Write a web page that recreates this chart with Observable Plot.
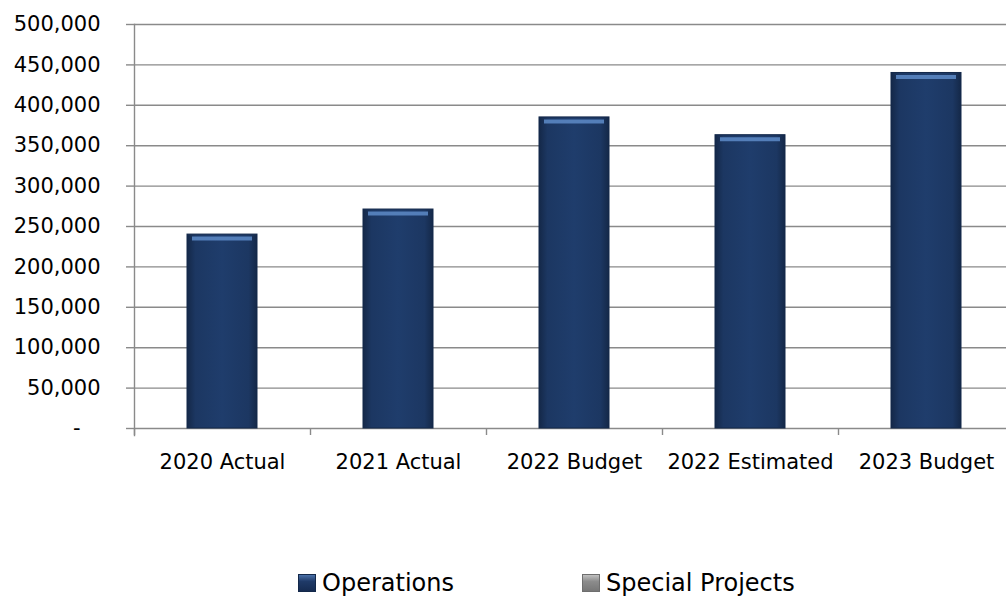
<!DOCTYPE html>
<html>
<head>
<meta charset="utf-8">
<script src="https://cdn.jsdelivr.net/npm/d3@7"></script>
<script src="https://cdn.jsdelivr.net/npm/@observablehq/plot@0.6"></script>
<style>
  html, body { margin: 0; padding: 0; background: #fff; width: 1006px; height: 599px; overflow: hidden; }
  #chart svg { display: block; }
  #legend { position: absolute; top: 569px; left: 0; width: 1006px; height: 30px; font-family: "DejaVu Sans", sans-serif; font-size: 24px; color: #000; }
  .item { position: absolute; top: 0; display: flex; align-items: center; }
  .sw { width: 18px; height: 18px; margin-right: 6px; box-sizing: border-box; }
</style>
</head>
<body>
<div id="chart"></div>
<div id="legend">
  <div class="item" style="left:298px"><div class="sw" style="background:linear-gradient(#4a70a8,#1f3a68 40%,#162c52);border:1px solid #13284a"></div>Operations</div>
  <div class="item" style="left:582px"><div class="sw" style="background:linear-gradient(#c0c0c0,#8c8c8c 40%,#777);border:1px solid #6e6e6e"></div>Special Projects</div>
</div>
<script>
const categories = ["2020 Actual", "2021 Actual", "2022 Budget", "2022 Estimated", "2023 Budget"];
const operations = [240000, 271000, 385000, 363000, 440000];
const specialProjects = [0, 0, 0, 0, 0];
const yTicks = [0, 50000, 100000, 150000, 200000, 250000, 300000, 350000, 400000, 450000, 500000];

const data = categories.map((c, i) => ({category: c, operations: operations[i], special: specialProjects[i]}));
const fmt = d3.format(",");

const chart = Plot.plot({
  width: 1006,
  height: 480,
  marginTop: 24,
  marginBottom: 52,
  marginLeft: 134,
  marginRight: 0,
  style: {fontFamily: "DejaVu Sans, sans-serif", fontSize: "21px", color: "#000", background: "#fff"},
  x: {domain: categories, range: [134, 1014], paddingInner: 0.6, paddingOuter: 0.3, label: null},
  y: {domain: [0, 500000], label: null},
  marks: [
    Plot.ruleY(yTicks, {stroke: "#8a8a8a", strokeWidth: 1.4}),
    Plot.frame({anchor: "left", stroke: "#8a8a8a", strokeWidth: 1.4, insetBottom: -7}),
    Plot.axisY(yTicks, {tickSize: 8, tickPadding: 26, stroke: "#8a8a8a", strokeWidth: 1.4, strokeOpacity: 1, fontSize: 21, fill: "#000",
      tickFormat: d => d === 0 ? "-\u00a0\u00a0\u00a0" : fmt(d)}),
    Plot.axisX({tickSize: 7, tickFormat: null, dx: -88, stroke: "#8a8a8a", strokeWidth: 1.4, strokeOpacity: 1}),
    Plot.axisX({tickSize: 0, tickPadding: 26, fontSize: 21, fill: "#000"}),
    Plot.barY(data, {x: "category", y: "special", fill: "#8c8c8c"}),
    Plot.barY(data, {x: "category", y: "operations", fill: "url(#opGrad)", stroke: "#13284a", strokeWidth: 1}),
    Plot.tickY(data, {x: "category", y: "operations", dy: 4, stroke: "#5a86c2", strokeWidth: 4, strokeOpacity: 0.9, insetLeft: 5, insetRight: 5})
  ]
});

const svg = d3.select(chart);
const defs = svg.insert("defs", ":first-child");
const g = defs.append("linearGradient").attr("id", "opGrad").attr("x1", "0").attr("x2", "1").attr("y1", "0").attr("y2", "0");
g.append("stop").attr("offset", "0").attr("stop-color", "#142848");
g.append("stop").attr("offset", "0.12").attr("stop-color", "#1c3762");
g.append("stop").attr("offset", "0.5").attr("stop-color", "#1f3d6c");
g.append("stop").attr("offset", "0.88").attr("stop-color", "#1c3762");
g.append("stop").attr("offset", "1").attr("stop-color", "#142848");

document.getElementById("chart").appendChild(chart);
</script>
</body>
</html>
